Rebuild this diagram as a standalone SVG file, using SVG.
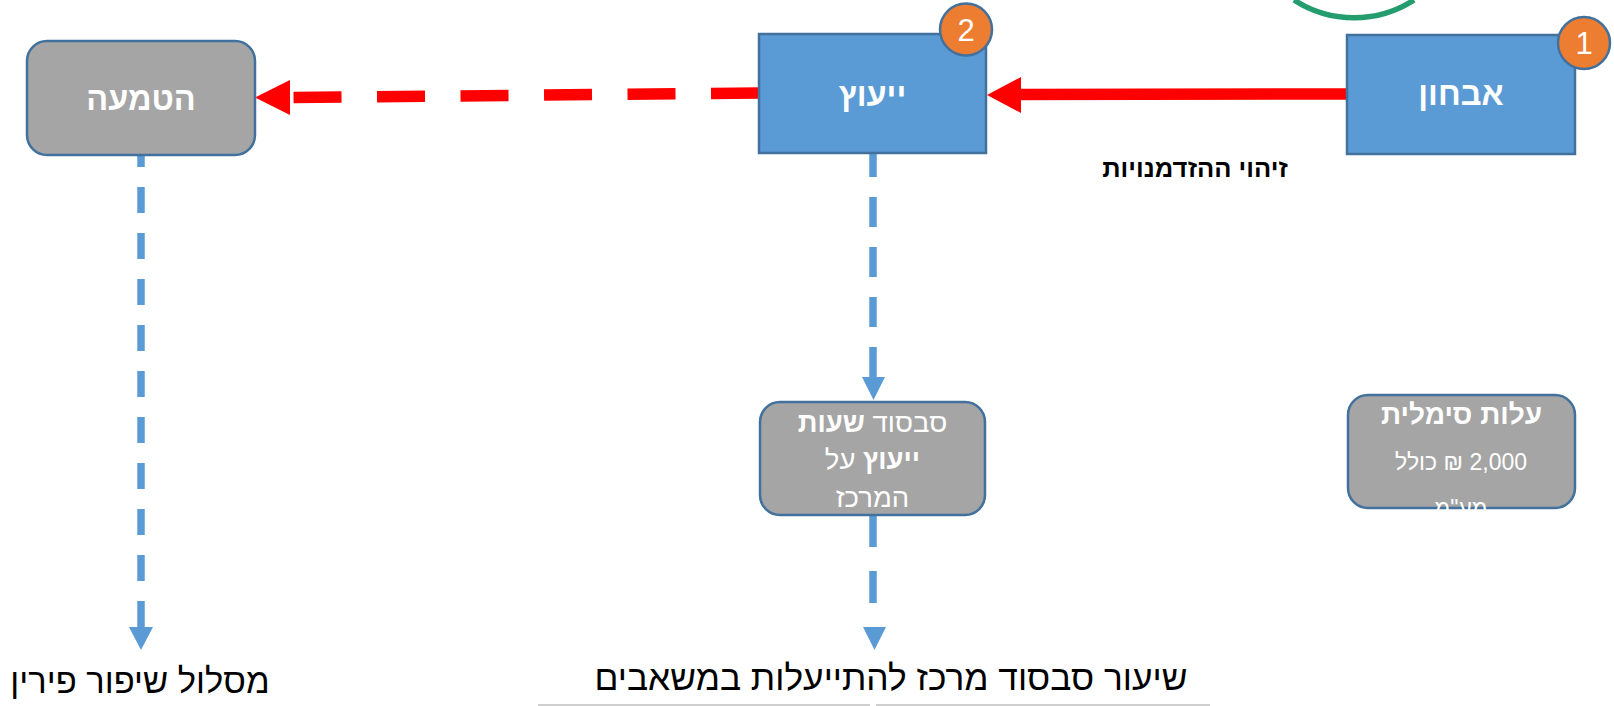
<svg xmlns="http://www.w3.org/2000/svg" width="1614" height="706" viewBox="0 0 1614 706">
<style>
  text { font-family: "Liberation Sans", "DejaVu Sans", "Noto Sans", sans-serif; }
  .blue { fill: #5B9BD5; stroke: #41719C; stroke-width: 2.5; }
  .gray { fill: #A5A5A5; stroke: #41719C; stroke-width: 2.5; }
  .badge { fill: #ED7D31; stroke: #41719C; stroke-width: 2.5; }
  .lbl { fill: #FFFFFF; font-weight: bold; font-size: 32.5px; text-anchor: middle; }
  .num { fill: #FFFFFF; font-size: 31px; text-anchor: middle; }
  .sub { fill: #FFFFFF; font-size: 27.5px; text-anchor: middle; }
  .cost { fill: #FFFFFF; font-size: 23px; text-anchor: middle; }
  .bline { stroke: #5B9BD5; stroke-width: 7.5; fill: none; }
  .bhead { fill: #5B9BD5; }
  .red { stroke: #FF0000; stroke-width: 11.5; fill: none; }
  .rhead { fill: #FF0000; }
</style>

<!-- logo fragment at top -->
<g id="logo-fragment">
  <path d="M1294,0 A110,110 0 0 0 1414,0" fill="none" stroke="#239C6E" stroke-width="5.5"/>
</g>

<g id="connectors">
  <!-- solid red: אבחון -> ייעוץ -->
  <line class="red" x1="1347" y1="94" x2="1016" y2="94.5"/>
  <polygon class="rhead" points="987,95 1021,77 1021,113"/>
  <!-- dashed red: ייעוץ -> הטמעה -->
  <line class="red" x1="759" y1="93" x2="292" y2="97.5" stroke-dasharray="48 35.5"/>
  <polygon class="rhead" points="255,97.5 290,80 290,115"/>
  <!-- blue dashed from הטמעה down -->
  <line class="bline" x1="141" y1="155" x2="141" y2="628" stroke-dasharray="26 20" stroke-dashoffset="14"/>
  <polygon class="bhead" points="129,627 153,627 141,650"/>
  <!-- blue dashed from ייעוץ to gray box -->
  <line class="bline" x1="873" y1="153" x2="873" y2="378" stroke-dasharray="30 20" stroke-dashoffset="6"/>
  <polygon class="bhead" points="862,377 885,377 873.5,400"/>
  <!-- blue dashed from gray box down -->
  <line class="bline" x1="873" y1="515" x2="873" y2="603" stroke-dasharray="32 24"/>
  <polygon class="bhead" points="863,627 886,627 874.5,650"/>
</g>

<g id="node-hatmaa">
  <rect class="gray" x="27" y="41" width="228" height="114" rx="20" ry="20"/>
  <text class="lbl" x="141" y="110">הטמעה</text>
</g>

<g id="node-yeutz">
  <rect class="blue" x="759" y="34" width="227" height="119"/>
  <text class="lbl" x="872.5" y="106">ייעוץ</text>
</g>

<g id="badge-2">
  <circle class="badge" cx="966" cy="29.5" r="26"/>
  <text class="num" x="966" y="41">2</text>
</g>

<g id="node-avchun">
  <rect class="blue" x="1347" y="35" width="228" height="119"/>
  <text class="lbl" x="1461" y="105">אבחון</text>
</g>

<g id="badge-1">
  <circle class="badge" cx="1584" cy="43" r="26"/>
  <text class="num" x="1584" y="54">1</text>
</g>

<g id="label-opportunities">
  <text x="1195" y="177" font-size="25.5" font-weight="bold" fill="#000000" text-anchor="middle">זיהוי ההזדמנויות</text>
</g>

<g id="node-subsidy">
  <rect class="gray" x="760" y="402" width="225" height="113" rx="20" ry="20"/>
  <text class="sub" x="872.5" y="432" direction="rtl">סבסוד <tspan font-weight="bold">שעות</tspan></text>
  <text class="sub" x="872.5" y="469" direction="rtl"><tspan font-weight="bold">ייעוץ</tspan> על</text>
  <text class="sub" x="872.5" y="507" direction="rtl">המרכז</text>
</g>

<g id="node-cost">
  <rect class="gray" x="1348" y="395" width="227" height="113" rx="20" ry="20"/>
  <text x="1461.5" y="424" font-size="28" font-weight="bold" fill="#FFFFFF" text-anchor="middle" direction="rtl">עלות סימלית</text>
  <text class="cost" x="1461" y="470" direction="rtl">2,000 ₪ כולל</text>
  <text class="cost" x="1461" y="516" direction="rtl">מע"מ</text>
</g>

<g id="out-left">
  <text x="140" y="693" font-size="34.5" fill="#000000" text-anchor="middle" direction="rtl">מסלול שיפור פירין</text>
</g>

<g id="out-middle">
  <text x="891" y="690" font-size="35.3" fill="#000000" text-anchor="middle" direction="rtl">שיעור סבסוד מרכז להתייעלות במשאבים</text>
  <line x1="538" y1="705" x2="870" y2="705" stroke="#BFBFBF" stroke-width="1.5"/>
  <line x1="876" y1="705" x2="1210" y2="705" stroke="#BFBFBF" stroke-width="1.5"/>
</g>
</svg>
